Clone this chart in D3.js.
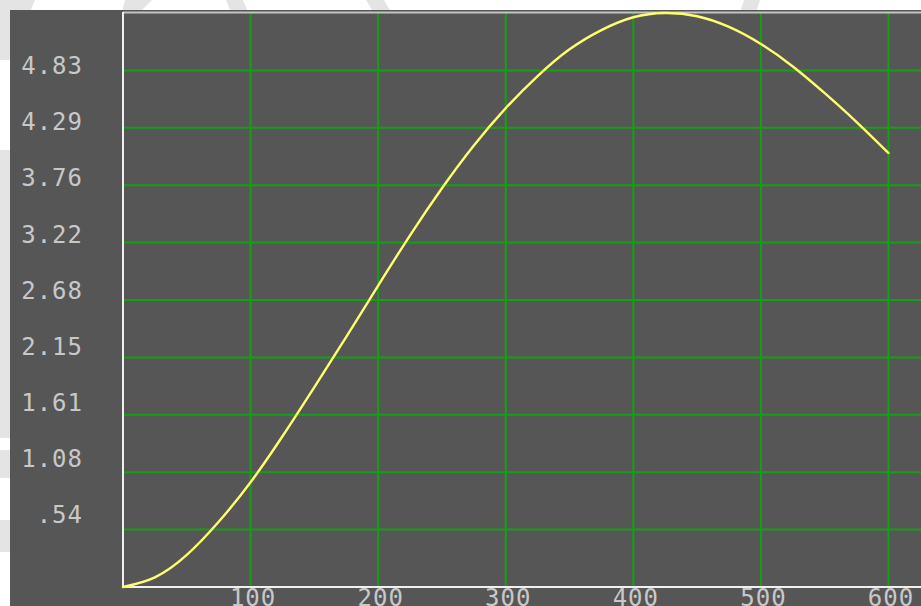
<!DOCTYPE html>
<html>
<head>
<meta charset="utf-8">
<script src="https://cdn.jsdelivr.net/npm/d3@7"></script>
<style>
  body { margin: 0; background: #fff; overflow: hidden; }
  svg { display: block; }
</style>
</head>
<body>
<svg id="chart" width="921" height="606"></svg>
<script>
// ---------------------------------------------------------------
//    DATA
// ---------------------------------------------------------------
const xTicks = [100, 200, 300, 400, 500, 600];
const yTicks = [0.537, 1.074, 1.611, 2.148, 2.685, 3.222, 3.759, 4.296, 4.833];
const yTickLabels = [".54", "1.08", "1.61", "2.15", "2.68", "3.22", "3.76", "4.29", "4.83"];

// curve
const curveX = [0, 25, 50, 75, 100, 125, 150, 175, 200, 225, 250, 275, 300,
                325, 350, 375, 400, 425, 450, 475, 500, 525, 550, 575, 600];
const curveY = [0, 0.09, 0.30, 0.61, 0.98, 1.41, 1.87, 2.34, 2.82, 3.29, 3.73, 4.13, 4.48,
                4.78, 5.03, 5.21, 5.33, 5.37, 5.34, 5.24, 5.08, 4.87, 4.62, 4.35, 4.06];

// ---------------------------------------------------------------
//    LAYOUT
// ---------------------------------------------------------------
const W = 921, H = 606;
const plotLeft = 123, plotTop = 13, plotBottom = 587;

const svg = d3.select("#chart");

// watermark bits in the white margin
const marks = [
    [[0, 0], [35, 0], [10, 60], [0, 60]],
    [[125, 0], [152, 0], [140, 12], [122, 12]],
    [[226, 0], [243, 0], [248, 12], [231, 12]],
    [[366, 0], [384, 0], [391, 12], [373, 12]],
    [[744, 0], [760, 0], [756, 12], [740, 12]],
    [[0, 150], [12, 150], [12, 438], [0, 438]],
    [[0, 450], [12, 450], [12, 478], [0, 478]],
    [[0, 520], [12, 520], [12, 552], [0, 552]]
];
svg.selectAll("polygon.mark")
    .data(marks)
    .join("polygon")
    .attr("class", "mark")
    .attr("points", d => d.map(p => p.join(",")).join(" "))
    .attr("fill", "#e4e4e4");

// dark panel
svg.append("rect")
    .attr("x", 10).attr("y", 10)
    .attr("width", W).attr("height", H)
    .attr("fill", "#565656");

const x = d3.scaleLinear().domain([0, 600]).range([plotLeft, 888.5]);
const y = d3.scaleLinear().domain([0, 5.37]).range([plotBottom, plotTop]);
// labels sit on a slightly tighter spacing than the grid
const yLabel = d3.scaleLinear().domain([0, 5.37]).range([579, 17.5]);

// grid
const grid = svg.append("g").attr("stroke", "#14a014").attr("stroke-width", 2);
grid.selectAll("line.v")
    .data(xTicks)
    .join("line")
    .attr("class", "v")
    .attr("x1", d => x(d)).attr("x2", d => x(d))
    .attr("y1", plotTop).attr("y2", plotBottom);
grid.selectAll("line.h")
    .data(yTicks)
    .join("line")
    .attr("class", "h")
    .attr("x1", plotLeft).attr("x2", W)
    .attr("y1", d => y(d)).attr("y2", d => y(d));

// frame
svg.append("line")
    .attr("x1", plotLeft).attr("x2", W).attr("y1", 12.5).attr("y2", 12.5)
    .attr("stroke", "#c4c4c4").attr("stroke-width", 2);
svg.append("line")
    .attr("x1", plotLeft).attr("x2", plotLeft).attr("y1", 12).attr("y2", plotBottom)
    .attr("stroke", "#f0f0f0").attr("stroke-width", 2);
svg.append("line")
    .attr("x1", plotLeft).attr("x2", W).attr("y1", plotBottom).attr("y2", plotBottom)
    .attr("stroke", "#f0f0f0").attr("stroke-width", 2);

// curve
const line = d3.line()
    .x((d, i) => x(curveX[i]))
    .y(d => y(d))
    .curve(d3.curveNatural);

svg.append("path")
    .datum(curveY)
    .attr("d", line)
    .attr("fill", "none")
    .attr("stroke", "#ffff6e")
    .attr("stroke-width", 2.4)
    .attr("stroke-linecap", "round");

// axes (labels only)
const yAxis = d3.axisLeft(yLabel)
    .tickValues(yTicks)
    .tickFormat((d, i) => yTickLabels[i])
    .tickSize(0)
    .tickPadding(0);

const yg = svg.append("g")
    .attr("transform", "translate(83,0)")
    .call(yAxis);
yg.select(".domain").remove();
yg.selectAll("text").attr("dy", 0);

const xAxis = d3.axisBottom(x)
    .tickValues(xTicks)
    .tickSize(0)
    .tickPadding(2);

const xg = svg.append("g")
    .attr("transform", `translate(2,${plotBottom})`)
    .call(xAxis);
xg.select(".domain").remove();

svg.selectAll(".tick text")
    .attr("fill", "#c8c8c8")
    .style("font-family", "'DejaVu Sans Mono', monospace")
    .style("font-size", "24px")
    .style("letter-spacing", "1px");
</script>
</body>
</html>
